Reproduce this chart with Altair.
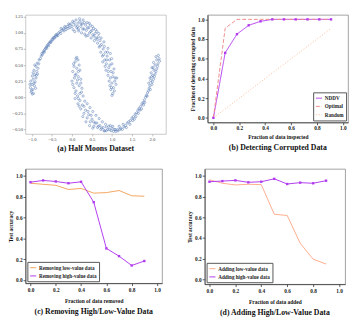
import altair as alt
import pandas as pd

SERIF = "Liberation Serif"

# ---------------- (a) Half moons ----------------
upper_moon = [
    (-1.02, 0.08), (-0.98, 0.12), (-1.04, 0.15), (-0.96, 0.06), (-1.0, 0.2), (-0.94, 0.18),
    (-1.03, 0.25), (-0.97, 0.28), (-0.92, 0.24), (-0.99, 0.33), (-0.93, 0.35), (-0.9, 0.3),
    (-0.95, 0.42), (-0.88, 0.4), (-0.9, 0.48), (-0.85, 0.45), (-0.87, 0.53), (-0.83, 0.52),
    (-0.82, 0.58), (-0.79, 0.6), (-1.01, 0.11), (-0.95, 0.22), (-0.97, 0.38), (-0.86, 0.36),
    (-0.77, 0.64), (-0.74, 0.66), (-0.72, 0.7), (-0.7, 0.72), (-0.68, 0.74), (-0.66, 0.76),
    (-0.64, 0.78), (-0.62, 0.8), (-0.6, 0.82), (-0.57, 0.84), (-0.55, 0.86), (-0.52, 0.87),
    (-0.5, 0.9), (-0.47, 0.92), (-0.45, 0.93), (-0.42, 0.95), (-0.4, 0.97), (-0.37, 0.98),
    (-0.35, 0.96), (-0.33, 1.0), (-0.3, 1.02), (-0.28, 0.99), (-0.25, 1.04), (-0.22, 1.06),
    (-0.2, 1.03), (-0.17, 1.08), (-0.15, 1.05), (-0.12, 1.1), (-0.1, 1.07), (-0.07, 1.12),
    (-0.05, 1.08), (-0.02, 1.14), (0.0, 1.1), (0.03, 1.05), (-0.75, 0.68), (-0.69, 0.7),
    (-0.63, 0.76), (-0.58, 0.8), (-0.53, 0.85), (-0.48, 0.89), (-0.43, 0.92), (-0.38, 0.95),
    (0.05, 1.16), (0.08, 1.12), (0.1, 1.2), (0.12, 1.08), (0.15, 1.15), (0.17, 1.03),
    (0.2, 1.18), (0.22, 1.1), (0.24, 1.0), (0.26, 1.14), (0.28, 1.2), (0.3, 1.06),
    (0.32, 0.98), (0.34, 1.12), (0.36, 1.04), (0.38, 1.16), (0.4, 0.96), (0.42, 1.08),
    (0.44, 1.0), (0.46, 1.12), (0.48, 0.92), (0.5, 1.04), (0.52, 0.97), (0.54, 1.07),
    (0.56, 0.88), (0.58, 0.99), (0.6, 0.92), (0.62, 1.02), (0.64, 0.84), (0.66, 0.94),
    (0.68, 0.78), (0.7, 0.88), (0.72, 0.7), (0.74, 0.82), (0.76, 0.64), (0.78, 0.75),
    (0.8, 0.86), (0.82, 0.58), (0.84, 0.7), (0.86, 0.52), (0.88, 0.64), (0.9, 0.76),
    (0.77, 0.55), (0.92, 0.46), (0.94, 0.58), (0.96, 0.68), (0.85, 0.42), (0.98, 0.4),
    (1.0, 0.52), (0.9, 0.34), (1.02, 0.32), (1.05, 0.44), (0.93, 0.25), (1.0, 0.22),
    (1.08, 0.3), (1.04, 0.15), (0.97, 0.12), (1.1, 0.2), (1.02, 0.06), (1.06, 0.1),
    (1.0, 0.03), (0.95, 0.18),
    (0.07, 1.02), (0.14, 1.1), (0.19, 1.22), (0.23, 1.14), (0.27, 1.06), (0.31, 1.16),
    (0.35, 0.95), (0.39, 1.08), (0.43, 1.15), (0.47, 1.02), (0.51, 1.1), (0.55, 0.95),
    (0.59, 1.05), (0.63, 0.9), (0.67, 0.99), (0.71, 0.8), (0.73, 0.92), (0.79, 0.66),
    (0.81, 0.79), (0.87, 0.58), (0.83, 0.48), (0.89, 0.7), (0.95, 0.5), (0.99, 0.6),
    (1.03, 0.38), (0.96, 0.3), (1.07, 0.25), (0.99, 0.15), (1.12, 0.3), (0.91, 0.4),
    (-0.08, 1.14), (-0.18, 1.1), (-0.27, 1.07), (0.02, 1.18), (0.16, 1.06), (-0.91, 0.14),
    (-1.05, 0.2), (-0.99, 0.05), (-0.89, 0.34), (-0.93, 0.5),
]
lower_moon = [
    (0.12, 0.62), (0.15, 0.58), (0.08, 0.55), (0.18, 0.5), (0.05, 0.48), (0.12, 0.45),
    (0.2, 0.42), (0.02, 0.4), (0.1, 0.36), (0.16, 0.32), (0.06, 0.3), (0.22, 0.28),
    (0.0, 0.25), (0.12, 0.22), (0.18, 0.18), (0.05, 0.15), (0.25, 0.14), (0.1, 0.1),
    (0.2, 0.06), (0.14, 0.02), (0.28, 0.02), (0.08, -0.02), (0.2, -0.05), (0.32, -0.06),
    (0.15, -0.1), (0.26, -0.12), (0.38, -0.1), (0.22, -0.18), (0.34, -0.2), (0.45, -0.16),
    (0.3, -0.25), (0.42, -0.27), (0.52, -0.22), (0.38, -0.32), (0.5, -0.34), (0.6, -0.28),
    (0.46, -0.38), (0.58, -0.4), (0.68, -0.33), (0.55, -0.45), (0.66, -0.45), (0.76, -0.38),
    (0.64, -0.47), (0.74, -0.48), (0.84, -0.42), (0.72, -0.5), (0.82, -0.52), (0.92, -0.45),
    (0.8, -0.52), (0.9, -0.5), (1.0, -0.48), (0.86, -0.46), (0.98, -0.52), (1.08, -0.5),
    (0.96, -0.44), (1.06, -0.5), (1.15, -0.52), (1.04, -0.53), (1.14, -0.5), (1.22, -0.48),
    (1.2, -0.5), (1.26, -0.5), (1.3, -0.46), (1.34, -0.44), (1.38, -0.4), (1.42, -0.38),
    (1.46, -0.36), (1.5, -0.32), (1.54, -0.3), (1.58, -0.26), (1.62, -0.24), (1.65, -0.2),
    (1.68, -0.17), (1.72, -0.14), (1.75, -0.1), (1.78, -0.08), (1.81, -0.04), (1.84, 0.0),
    (1.86, 0.03), (1.89, 0.07), (1.91, 0.1), (1.93, 0.14), (1.45, -0.42), (1.56, -0.34),
    (1.66, -0.25), (1.74, -0.18), (1.82, -0.08),
    (1.95, 0.18), (2.0, 0.2), (1.92, 0.22), (1.97, 0.26), (2.04, 0.28), (1.95, 0.3),
    (2.02, 0.34), (2.08, 0.36), (1.98, 0.38), (2.05, 0.42), (2.12, 0.44), (2.0, 0.46),
    (2.08, 0.5), (2.15, 0.52), (2.04, 0.54), (2.12, 0.58), (2.18, 0.6), (2.1, 0.63),
    (2.16, 0.65),
    (0.1, 0.6), (0.04, 0.52), (0.16, 0.4), (0.08, 0.34), (0.14, 0.27), (0.02, 0.2),
    (0.22, 0.22), (0.08, 0.06), (0.24, 0.08), (0.16, -0.02), (0.3, -0.14), (0.18, -0.14),
    (0.4, -0.22), (0.27, -0.3), (0.48, -0.28), (0.35, -0.38), (0.54, -0.38), (0.44, -0.44),
    (0.62, -0.4), (0.52, -0.48), (0.7, -0.44), (0.78, -0.47), (0.86, -0.52), (0.94, -0.5),
    (1.02, -0.45), (1.1, -0.53), (1.18, -0.45), (1.28, -0.42), (1.36, -0.47), (1.52, -0.36),
    (1.6, -0.3), (1.7, -0.2), (1.79, -0.12), (1.88, 0.02), (1.96, 0.12), (2.01, 0.24),
    (2.06, 0.32), (2.1, 0.4), (2.14, 0.48), (2.19, 0.56), (1.99, 0.32), (2.03, 0.46),
]

# ---------------- (b) Detecting corrupted data ----------------
inspected = [0.0, 0.091, 0.182, 0.273, 0.364, 0.455, 0.545, 0.636, 0.727, 0.818, 0.909]
nddv = [0.0, 0.66, 0.85, 0.94, 0.98, 1.0, 1.0, 1.0, 1.0, 1.0, 1.0]
optimal = [0.0, 0.91, 1.0, 1.0, 1.0, 1.0, 1.0, 1.0, 1.0, 1.0, 1.0]
random_curve = [0.0, 0.091, 0.182, 0.273, 0.364, 0.455, 0.545, 0.636, 0.727, 0.818, 0.909]

# ---------------- (c) Removing ----------------
removed = [0.0, 0.1, 0.2, 0.3, 0.4, 0.5, 0.6, 0.7, 0.8, 0.9]
remove_low = [0.93, 0.92, 0.91, 0.87, 0.88, 0.835, 0.84, 0.86, 0.81, 0.805]
remove_high = [0.94, 0.957, 0.947, 0.93, 0.944, 0.748, 0.304, 0.23, 0.14, 0.183]

# ---------------- (d) Adding ----------------
added = [0.0, 0.1, 0.2, 0.3, 0.4, 0.5, 0.6, 0.7, 0.8, 0.9]
add_low = [0.963, 0.929, 0.913, 0.919, 0.916, 0.63, 0.618, 0.351, 0.196, 0.149]
add_high = [0.944, 0.95, 0.957, 0.938, 0.944, 0.972, 0.922, 0.935, 0.929, 0.954]

PURPLE = "#b23aee"
ORANGE_C = "#f5a45e"
PEACH_D = "#ffab8c"
OPT_COL = "#f28a8a"
RAND_COL = "#ffb98f"
TICKS01 = [0.0, 0.2, 0.4, 0.6, 0.8, 1.0]


def panel_title(text):
    return alt.TitleParams(text, orient="bottom", font=SERIF, fontSize=8, fontWeight="bold",
                           color="#111", offset=4, anchor="middle")


def origin_axis(title, is_x=True, label_pad=1, title_pad=4):
    return alt.Axis(title=title, values=TICKS01, format=".1f", grid=False,
                    domainColor="#333", tickColor="#333", tickSize=2.5, tickWidth=0.8,
                    domainWidth=0.8,
                    labelFont=SERIF, labelFontSize=5.5, labelFontWeight="bold", labelColor="#222",
                    labelPadding=label_pad if is_x else 1, titleFont=SERIF, titleFontSize=5.6,
                    titleFontWeight="bold", titleColor="#111",
                    titlePadding=title_pad if is_x else 2)


def legend_cfg(orient, offset):
    return alt.Legend(title=None, orient=orient, offset=offset, labelFont=SERIF, labelFontSize=5.3,
                      labelFontWeight="bold", labelColor="#222", symbolType="stroke",
                      symbolSize=40, symbolStrokeWidth=1, strokeColor="#555",
                      fillColor="white", padding=2, rowPadding=0.5, labelOffset=2,
                      labelLimit=200)


# (a)
moon_df = pd.DataFrame({
    "x": [p[0] for p in upper_moon] + [p[0] for p in lower_moon],
    "y": [p[1] for p in upper_moon] + [p[1] for p in lower_moon],
})
ax_a = dict(grid=False, domain=False, tickColor="#999", tickSize=2, tickWidth=0.6,
            labelFont=SERIF, labelFontSize=4.8, labelColor="#444", labelPadding=1, title=None)
chart_a = alt.Chart(moon_df).mark_point(filled=False, size=5, strokeWidth=0.7, opacity=0.75,
                                         color="#4c72b0").encode(
    x=alt.X("x:Q", scale=alt.Scale(domain=[-1.163, 2.349], nice=False, zero=False),
            axis=alt.Axis(values=[-1.0, -0.5, 0.0, 0.5, 1.0, 1.5, 2.0], format=".1f", **ax_a)),
    y=alt.Y("y:Q", scale=alt.Scale(domain=[-0.57, 1.28], nice=False, zero=False),
            axis=alt.Axis(values=[-0.5, -0.25, 0.0, 0.25, 0.5, 0.75, 1.0, 1.25], format=".2f", **ax_a)),
).properties(width=145, height=123, title=panel_title("(a) Half Moons Dataset"),
             view=alt.ViewBackground(stroke="#bbbbbb", strokeWidth=0.8))

# (b)
b_names = ["NDDV", "Optimal", "Random"]
df_b = pd.DataFrame({
    "x": inspected * 3,
    "y": nddv + optimal + random_curve,
    "s": ["NDDV"] * len(inspected) + ["Optimal"] * len(inspected) + ["Random"] * len(inspected),
})
base_b = alt.Chart(df_b).encode(
    x=alt.X("x:Q", scale=alt.Scale(domain=[-0.045, 1.04], nice=False, zero=False),
            axis=origin_axis("Fraction of data inspected")),
    y=alt.Y("y:Q", scale=alt.Scale(domain=[-0.046, 1.046], nice=False, zero=False),
            axis=origin_axis("Fraction of detecting corrupted data", False)),
)
line_b = base_b.mark_line(strokeWidth=1).encode(
    color=alt.Color("s:N", scale=alt.Scale(domain=b_names, range=[PURPLE, OPT_COL, RAND_COL]),
                    legend=legend_cfg("bottom-right", 2)),
    strokeDash=alt.StrokeDash("s:N", scale=alt.Scale(domain=b_names, range=[[1, 0], [4, 2], [1, 2]]),
                              legend=legend_cfg("bottom-right", 2)),
)
pts_b = base_b.mark_point(filled=True, size=6, shape="square", color=PURPLE, opacity=1).transform_filter(
    alt.datum.s == "NDDV")
chart_b = alt.layer(line_b, pts_b).properties(
    width=145, height=111, title=panel_title("(b) Detecting Corrupted Data"),
    view=alt.ViewBackground(stroke="#888", strokeWidth=0.8))


def panel_cd(xs, low, high, low_name, high_name, low_col, xtitle, title, ydom, xdom, width, height):
    df = pd.DataFrame({"x": xs * 2, "y": low + high,
                       "s": [low_name] * len(xs) + [high_name] * len(xs)})
    base = alt.Chart(df).encode(
        x=alt.X("x:Q", scale=alt.Scale(domain=xdom, nice=False, zero=False),
                axis=origin_axis(xtitle, True, 2, 6)),
        y=alt.Y("y:Q", scale=alt.Scale(domain=ydom, nice=False, zero=False),
                axis=origin_axis("Test accuracy", False)),
    )
    line = base.mark_line(strokeWidth=1).encode(
        color=alt.Color("s:N", scale=alt.Scale(domain=[low_name, high_name], range=[low_col, PURPLE]),
                        legend=legend_cfg("bottom-left", 2)))
    pts = base.mark_point(filled=True, size=6, shape="square", color=PURPLE, opacity=1).transform_filter(
        alt.datum.s == high_name)
    return alt.layer(line, pts).properties(width=width, height=height, title=panel_title(title),
                                           view=alt.ViewBackground(stroke="#888", strokeWidth=0.8))


chart_c = panel_cd(removed, remove_low, remove_high, "Removing low-value data", "Removing high-value data",
                   ORANGE_C, "Fraction of data removed", "(c) Removing High/Low-Value Data",
                   [-0.03, 1.068], [-0.04, 1.04], 141, 118)
chart_d = panel_cd(added, add_low, add_high, "Adding low-value data", "Adding high-value data",
                   PEACH_D, "Fraction of data added", "(d) Adding High/Low-Value Data",
                   [-0.045, 1.068], [-0.037, 1.047], 145, 119)

row1 = alt.hconcat(chart_a, chart_b, spacing=24).resolve_scale(color="independent", strokeDash="independent")
row2 = alt.hconcat(chart_c, chart_d, spacing=25).resolve_scale(color="independent", strokeDash="independent")
chart = alt.vconcat(row1, row2, spacing=14).resolve_scale(
    color="independent", strokeDash="independent").properties(padding=0).configure(background="white")

chart.save("out.html", embed_options={"renderer": "svg", "actions": False})
